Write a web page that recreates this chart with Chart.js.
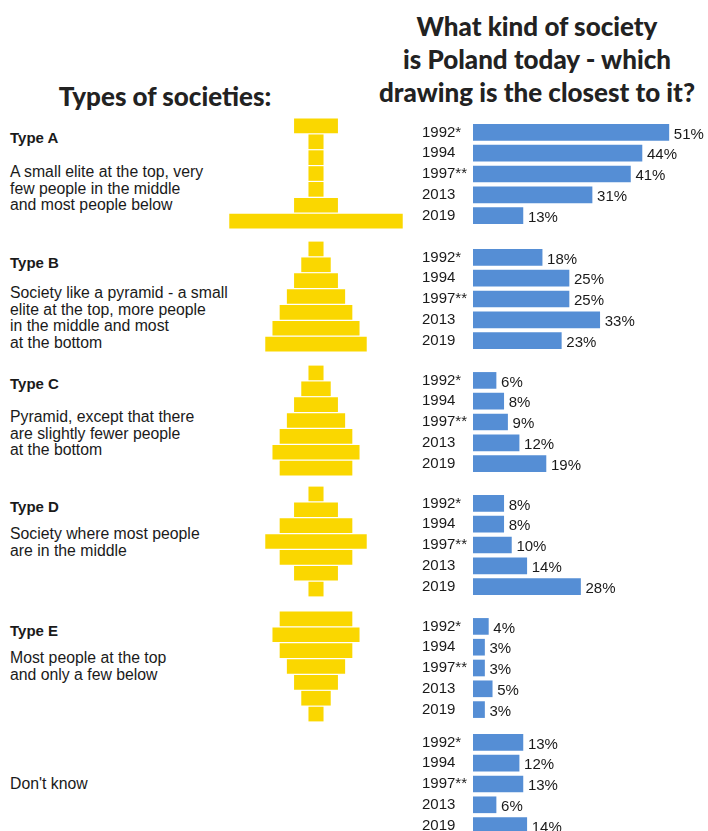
<!DOCTYPE html>
<html>
<head>
<meta charset="utf-8">
<script src="https://cdn.jsdelivr.net/npm/chart.js@4.4.1/dist/chart.umd.min.js"></script>
<style>
  html, body { margin: 0; padding: 0; background: #fff; }
  body {
    width: 708px; height: 831px; position: relative; overflow: hidden;
    font-family: Arial, "Liberation Sans", sans-serif; color: #1a1a1a;
  }
  .title {
    position: absolute; text-align: center; color: #222;
    font-family: Lato, "Open Sans", sans-serif; font-weight: 900;
    font-size: 26px; line-height: 33px;
  }
  .type { position: absolute; left: 10px; font-weight: bold; font-size: 15px; line-height: 17px; }
  .desc { position: absolute; left: 10px; font-size: 15.8px; line-height: 16.7px; }
  canvas { position: absolute; }
</style>
</head>
<body>
<div class="title" style="left:0; top:80px; width:330px;">Types of societies:</div>
<div class="title" style="left:367px; top:10px; width:340px;">What kind of society<br>is Poland today - which<br>drawing is the closest to it?</div>

<div class="type" style="top:129px;">Type A</div>
<div class="desc" style="top:164px;">A small elite at the top, very<br>few people in the middle<br>and most people below</div>

<div class="type" style="top:254px;">Type B</div>
<div class="desc" style="top:285px;">Society like a pyramid - a small<br>elite at the top, more people<br>in the middle and most<br>at the bottom</div>

<div class="type" style="top:375px;">Type C</div>
<div class="desc" style="top:409px;">Pyramid, except that there<br>are slightly fewer people<br>at the bottom</div>

<div class="type" style="top:498px;">Type D</div>
<div class="desc" style="top:526px;">Society where most people<br>are in the middle</div>

<div class="type" style="top:622px;">Type E</div>
<div class="desc" style="top:650px;">Most people at the top<br>and only a few below</div>

<div class="desc" style="top:776px;">Don't know</div>

<script>
// survey waves
const years = ['1992*', '1994', '1997**', '2013', '2019'];

// share of answers per drawing, %
const typeA = [51, 44, 41, 31, 13];
const typeB = [18, 25, 25, 33, 23];
const typeC = [6, 8, 9, 12, 19];
const typeD = [8, 8, 10, 14, 28];
const typeE = [4, 3, 3, 5, 3];
const dontKnow = [13, 12, 13, 6, 14];

// width of each layer in the society drawings, top to bottom (in blocks)
const layers = ['1', '2', '3', '4', '5', '6', '7'];
const drawA = [3, 1, 1, 1, 1, 3, 12];
const drawB = [1, 2, 3, 4, 5, 6, 7];
const drawC = [1, 2, 3, 4, 5, 6, 5];
const drawD = [1, 3, 5, 7, 5, 3, 1];
const drawE = [5, 6, 5, 4, 3, 2, 1];

const BLUE = '#558ed5';
const YELLOW = '#fad700';

Chart.defaults.animation = false;
Chart.defaults.font.family = 'Arial, "Liberation Sans", sans-serif';

function makeCanvas(left, top, width, height) {
    const c = document.createElement('canvas');
    c.width = width;
    c.height = height;
    c.style.left = left + 'px';
    c.style.top = top + 'px';
    document.body.appendChild(c);
    return c;
}

// writes "NN%" right after every bar
const valueLabels = {
    id: 'valueLabels',
    afterDatasetsDraw(chart) {
        const ctx = chart.ctx;
        const values = chart.data.datasets[0].data;
        ctx.save();
        ctx.font = '15px Arial, "Liberation Sans", sans-serif';
        ctx.fillStyle = '#1a1a1a';
        ctx.textBaseline = 'middle';
        ctx.textAlign = 'left';
        chart.getDatasetMeta(0).data.forEach((bar, i) => {
            ctx.fillText(values[i] + '%', bar.x + 5, bar.y + 2);
        });
        ctx.restore();
    }
};

function answersChart(values, top) {
    const canvas = makeCanvas(422, top, 286, 104);
    new Chart(canvas, {
        type: 'bar',
        data: {
            labels: years,
            datasets: [{
                data: values,
                backgroundColor: BLUE,
                barThickness: 16
            }]
        },
        options: {
            indexAxis: 'y',
            responsive: false,
            layout: { padding: 0 },
            plugins: { legend: { display: false }, tooltip: { enabled: false } },
            scales: {
                x: { display: false, min: 0, max: 235 / 3.84 },
                y: {
                    grid: { display: false },
                    border: { display: false },
                    ticks: {
                        autoSkip: false,
                        crossAlign: 'far',
                        padding: 0,
                        color: '#1a1a1a',
                        font: { size: 15 }
                    },
                    afterFit(scale) {
                        // full height for the five rows, labels may overhang
                        scale.width = 51;
                        scale.paddingTop = 0;
                        scale.paddingBottom = 0;
                    }
                }
            }
        },
        plugins: [valueLabels]
    });
}

function drawingChart(widths, top) {
    const canvas = makeCanvas(226, top, 180, 111);
    new Chart(canvas, {
        type: 'bar',
        data: {
            labels: layers,
            datasets: [{
                data: widths.map(w => [-w / 2, w / 2]),
                backgroundColor: YELLOW,
                barThickness: 14
            }]
        },
        options: {
            indexAxis: 'y',
            responsive: false,
            layout: { padding: 0 },
            plugins: { legend: { display: false }, tooltip: { enabled: false } },
            scales: {
                x: { display: false, min: -6.25, max: 6.25 },
                y: { display: false }
            }
        }
    });
}

const answerTops = [122, 247, 370, 493, 616, 732];
[typeA, typeB, typeC, typeD, typeE, dontKnow].forEach((v, i) => answersChart(v, answerTops[i]));

const drawingTops = [118, 241, 365, 486, 611];
[drawA, drawB, drawC, drawD, drawE].forEach((w, i) => drawingChart(w, drawingTops[i]));
</script>
</body>
</html>
